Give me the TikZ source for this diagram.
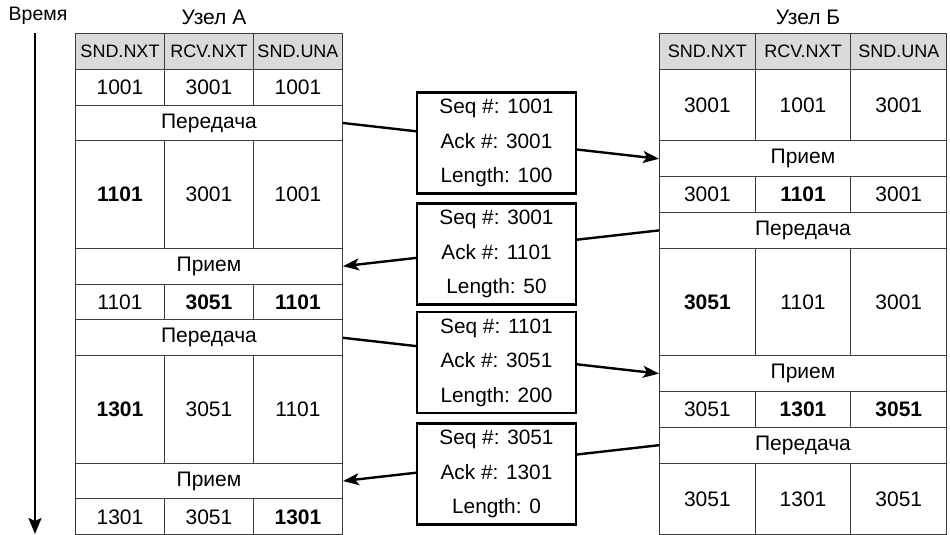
\documentclass[tikz,border=0pt]{standalone}
\usepackage{fontspec}
\setmainfont{Liberation Sans}
\usetikzlibrary{arrows.meta}
\definecolor{tabgray}{RGB}{60,60,60}
\definecolor{hdrgray}{RGB}{218,218,218}

\tikzset{
  cell/.style={draw=tabgray, line width=1pt, inner sep=0pt, anchor=north west,
    minimum height=35.8pt, font=\fontsize{21}{21}\selectfont},
  headcell/.style={cell, fill=hdrgray, font=\fontsize{18}{18}\selectfont},
  title/.style={font=\fontsize{21}{21}\selectfont},
  msgbox/.style={draw, fill=white, line width=2.6pt, minimum width=159pt,
    minimum height=101pt, inner sep=0pt, align=center, font=\fontsize{20.8}{34.5}\selectfont},
  msgarrow/.style={line width=2.4pt, -{Stealth[length=16pt,width=12pt,inset=4pt]}},
}

\begin{document}
\begin{tikzpicture}[x=1pt,y=-1pt]
\useasboundingbox (0,0) rectangle (950,535);
%Time axis
\node[title, font=\fontsize{19.5}{19.5}\selectfont] (time) at (38,16) {Время};
\coordinate (t0) at (35,33);
\coordinate (t1) at (35,534);
\draw[line width=2pt,-{Stealth[length=16pt,width=13pt,inset=3pt]}] (t0)--(t1);

%Host A
\node[title] (hostA) at (214,17) {Узел А};
\foreach \txt [count=\i] in {SND.NXT,RCV.NXT,SND.UNA}
  \node[headcell, minimum width=89pt] (ah\i) at ({75+89*(\i-1)},33) {\txt};
\foreach \u/\h/\p/\q/\r in {1/1/1001/3001/1001, 3/3/{\textbf{1101}}/3001/1001,
    7/1/1101/{\textbf{3051}}/{\textbf{1101}}, 9/3/{\textbf{1301}}/3051/1101,
    13/1/1301/3051/{\textbf{1301}}}
  \foreach \v [count=\i] in {\p,\q,\r}
    \node[cell, minimum width=89pt, minimum height={\h*35.8pt}] (a\u-\i)
      at ({75+89*(\i-1)},{33+35.8*\u}) {\v};
\foreach \n/\u/\txt in {aS1/2/Передача, aR1/6/Прием, aS2/8/Передача, aR2/12/Прием}
  \node[cell, minimum width=267pt] (\n) at (75,{33+35.8*\u}) {\txt};

%Host B
\node[title] (hostB) at (808,17) {Узел Б};
\foreach \txt [count=\i] in {SND.NXT,RCV.NXT,SND.UNA}
  \node[headcell, minimum width=95.7pt] (bh\i) at ({659+95.7*(\i-1)},33) {\txt};
\foreach \u/\h/\p/\q/\r in {1/2/3001/1001/3001, 4/1/3001/{\textbf{1101}}/3001,
    6/3/{\textbf{3051}}/1101/3001, 10/1/3051/{\textbf{1301}}/{\textbf{3051}},
    12/2/3051/1301/3051}
  \foreach \v [count=\i] in {\p,\q,\r}
    \node[cell, minimum width=95.7pt, minimum height={\h*35.8pt}] (b\u-\i)
      at ({659+95.7*(\i-1)},{33+35.8*\u}) {\v};
\foreach \n/\u/\txt in {bR1/3/Прием, bS1/5/Передача, bR2/9/Прием, bS2/11/Передача}
  \node[cell, minimum width=287pt] (\n) at (659,{33+35.8*\u}) {\txt};

%Segments
\draw[msgarrow] (aS1.east) -- (bR1.west);
\draw[msgarrow] (bS1.west) -- (aR1.east);
\draw[msgarrow] (aS2.east) -- (bR2.west);
\draw[msgarrow] (bS2.west) -- (aR2.east);
\node[msgbox] (m1) at (496.5,143) {Seq \#: 1001\\Ack \#: 3001\\Length: 100};
\node[msgbox] (m2) at (496.5,254) {Seq \#: 3001\\Ack \#: 1101\\Length: 50};
\node[msgbox] (m3) at (496.5,362.5) {Seq \#: 1101\\Ack \#: 3051\\Length: 200};
\node[msgbox] (m4) at (496.5,474) {Seq \#: 3051\\Ack \#: 1301\\Length: 0};
\end{tikzpicture}
\end{document}
